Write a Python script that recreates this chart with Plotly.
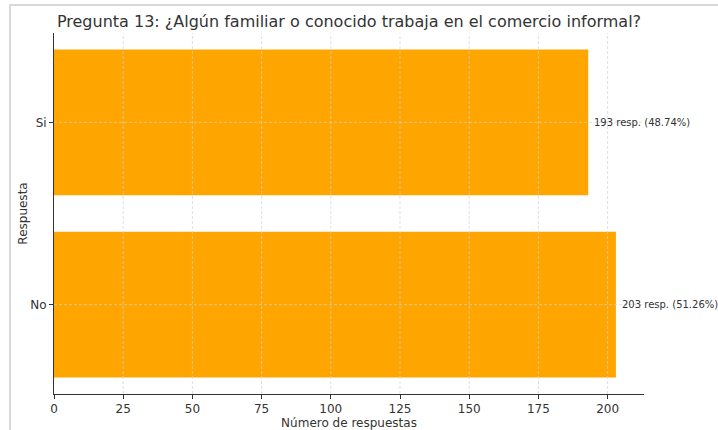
import plotly.graph_objects as go

categories = ["Si", "No"]
counts = [193, 203]
percents = [48.74, 51.26]
x_ticks = [0, 25, 50, 75, 100, 125, 150, 175, 200]

labels = [f"{c} resp. ({p:.2f}%)" for c, p in zip(counts, percents)]

fig = go.Figure()
fig.add_trace(go.Bar(
    x=counts, y=categories, orientation="h",
    marker=dict(color="#FFA500", line=dict(width=0)),
    width=0.8, showlegend=False, hoverinfo="skip",
))

for c, cat, lab in zip(counts, categories, labels):
    fig.add_annotation(x=c, y=cat, text=lab, showarrow=False,
                       xanchor="left", yanchor="middle", xshift=4,
                       font=dict(family="DejaVu Sans", size=10, color="#333333"))

W, H = 718, 430
L, R, T, B = 54, 74, 33, 36
pw, ph = W - L - R, H - T - B

def px(xp):
    return (xp - L) / pw

def py(yp):
    return (H - B - yp) / ph

grid = dict(color="#d2d2d2", width=0.7, dash="3px,2px")
for t in x_ticks[1:]:
    fig.add_shape(type="line", xref="x", yref="paper", x0=t, x1=t, y0=0, y1=1,
                  line=grid, layer="above")
for cat in categories:
    fig.add_shape(type="line", xref="paper", yref="y", x0=0, x1=1, y0=cat, y1=cat,
                  line=grid, layer="above")

fig.add_shape(type="rect", xref="paper", yref="paper",
              x0=px(10), x1=px(W + 20), y0=py(H + 20), y1=py(5),
              line=dict(color="#d9d9d9", width=2), fillcolor="rgba(0,0,0,0)",
              layer="above")

fig.update_layout(
    width=W, height=H,
    margin=dict(l=L, r=R, t=T, b=B, pad=0, autoexpand=False),
    paper_bgcolor="white", plot_bgcolor="white",
    font=dict(family="DejaVu Sans", color="#333333", size=12),
    title=dict(text="Pregunta 13: ¿Algún familiar o conocido trabaja en el comercio informal?",
               x=(L + pw / 2) / W, xanchor="center", y=1 - 21 / H, yanchor="middle",
               font=dict(size=16, color="#333333"), automargin=False),
    bargap=0.2,
    xaxis=dict(
        range=[0, 213.15], tickvals=x_ticks, ticks="outside", ticklen=4,
        tickcolor="#333333", showline=True, linecolor="#333333", linewidth=1,
        showgrid=False, zeroline=False, automargin=False,
        title=dict(text="Número de respuestas", font=dict(size=12), standoff=6),
        tickfont=dict(size=12),
    ),
    yaxis=dict(
        categoryorder="array", categoryarray=["No", "Si"],
        range=[-0.49, 1.49], ticks="outside", ticklen=4, tickcolor="#333333",
        showline=True, linecolor="#333333", linewidth=1,
        showgrid=False, zeroline=False, automargin=False,
        title=dict(text="Respuesta", font=dict(size=12), standoff=0),
        tickfont=dict(size=12),
    ),
)

fig.write_html("out.html", config={"displayModeBar": False},
               post_script="document.body.style.margin='0';document.body.style.overflow='hidden';")
